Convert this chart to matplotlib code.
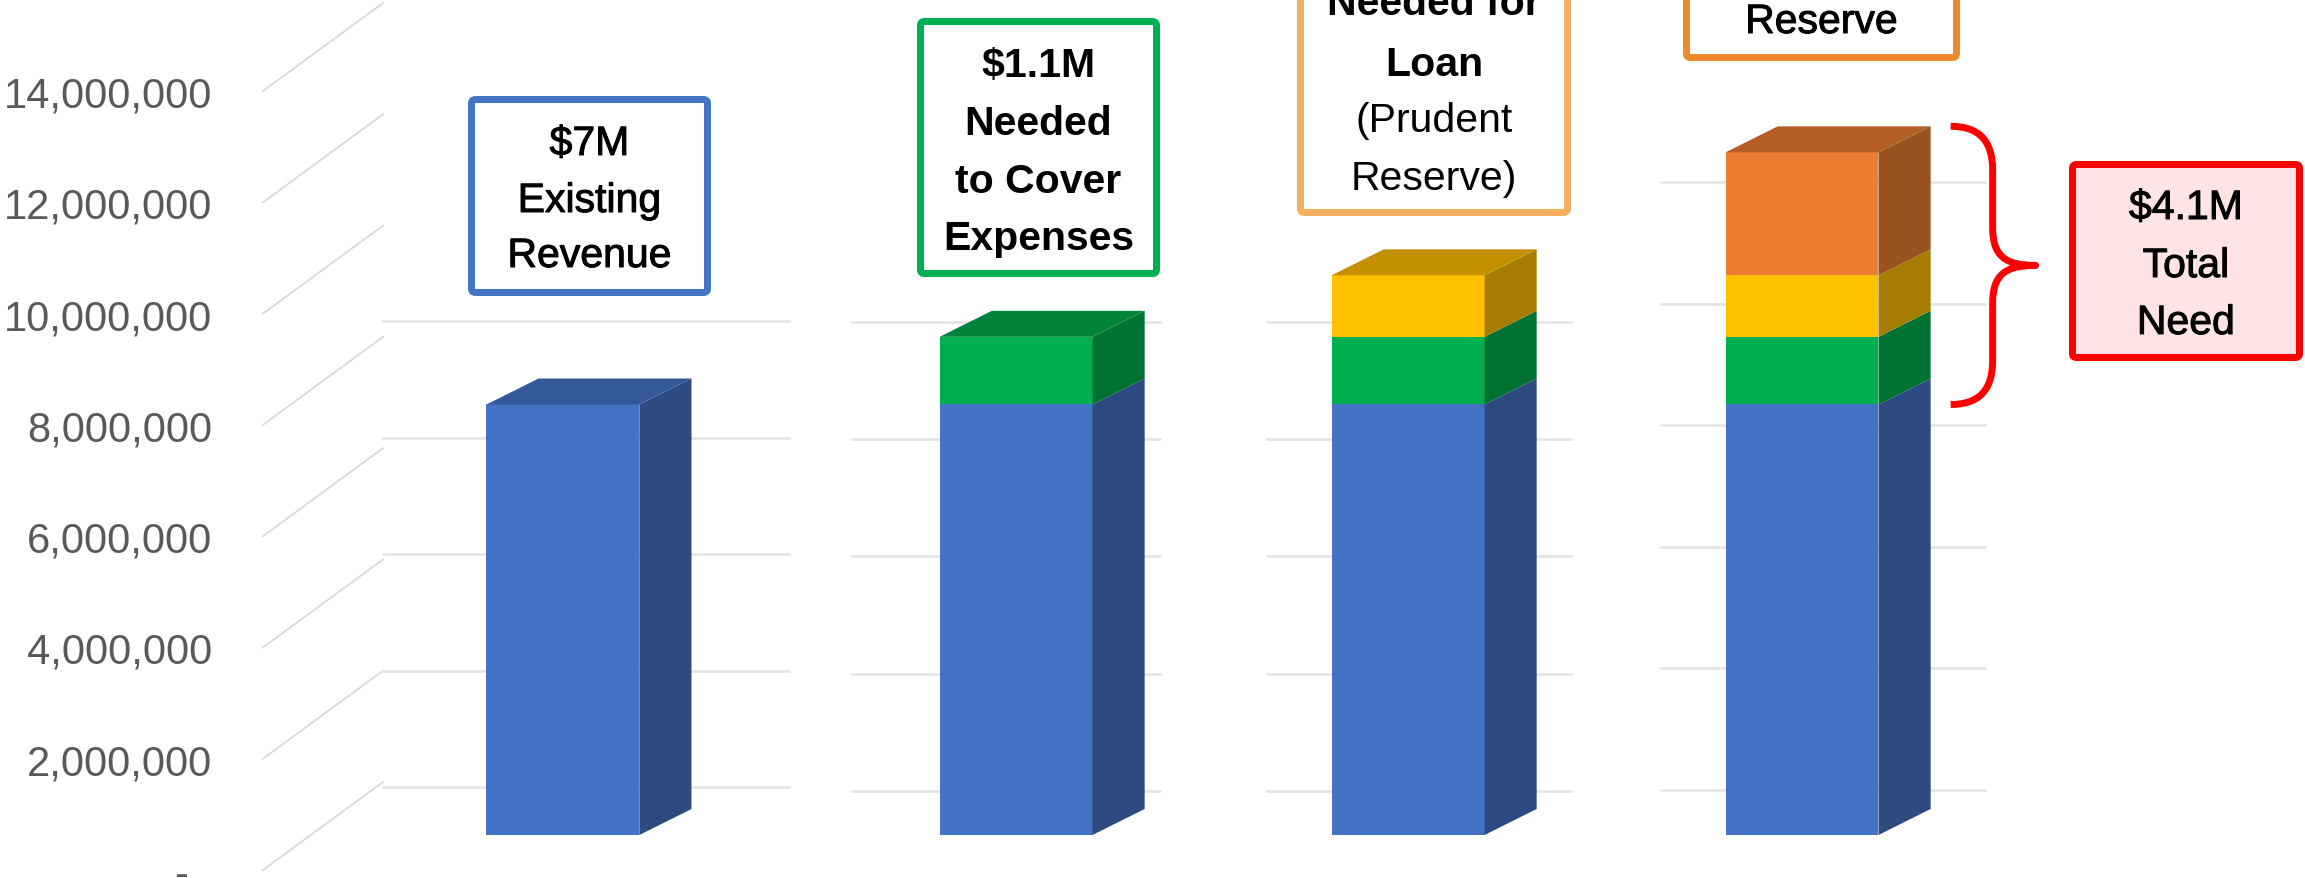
import numpy as np
import matplotlib.pyplot as plt
import matplotlib.patheffects as pe
from matplotlib.patches import Polygon, FancyBboxPatch, PathPatch
from matplotlib.path import Path
from matplotlib.ticker import FuncFormatter

plt.rcParams['font.family'] = ['Liberation Sans', 'DejaVu Sans']

# funding stack per column (dollars)
columns = ['Existing Revenue', 'Cover Expenses', 'Loan Reserve', 'Total Need']
revenue = [7.0e6, 7.0e6, 7.0e6, 7.0e6]
expenses = [0, 1.1e6, 1.1e6, 1.1e6]
loan = [0, 0, 1.0e6, 1.0e6]
reserve = [0, 0, 0, 2.0e6]
wall_ticks = [0, 2e6, 4e6, 6e6, 8e6, 10e6, 12e6, 14e6]

# face colours: front, side, top
series = [
    (revenue, '#4472C4', '#2D4B80', '#35589A'),
    (expenses, '#00B050', '#007332', '#00843A'),
    (loan, '#FFC000', '#A67D00', '#C39000'),
    (reserve, '#ED7D31', '#9A5220', '#B45F25'),
]

W, H = 2305, 879
fig = plt.figure(figsize=(W / 100, H / 100), dpi=100)
fig.patch.set_facecolor('white')

# pixel-space layers behind and in front of the chart
bg = fig.add_axes([0, 0, 1, 1], zorder=0)
ax = fig.add_axes([0, 0, 1, 1], zorder=1)
ov = fig.add_axes([0, 0, 1, 1], zorder=2)
for a in (bg, ov):
    a.set_xlim(0, W)
    a.set_ylim(H, 0)
    a.axis('off')

# ---- 3D wall: side wall diagonals + back wall gridlines ----
def label_px(w):
    return 871 - 55.64e-6 * w

for w in wall_ticks:
    y = label_px(w)
    bg.plot([263, 383], [y, y - 88], color='#D9D9D9', lw=1.3)

# each column sits on its own slice of the back wall
panels = [(383, 789, 788, 58.25e-6, 8e6),
          (852, 1160, 792, 58.65e-6, 8e6),
          (1267, 1571, 792, 58.65e-6, 8e6),
          (1661, 1985, 791, 60.8e-6, 10e6)]
for x0, x1, zero, scale, top in panels:
    for w in wall_ticks:
        if w <= top:
            y = zero - scale * w
            bg.plot([x0, x1], [y, y], color='#E3E3E3', lw=1.8)

# ---- bars ----
ax.set_xlim(-1.436, 4.444)
ax.set_ylim(-0.699e6, 13.593e6)
ax.patch.set_alpha(0)
ax.set_xticks([])
ax.set_yticks([])
for s in ax.spines.values():
    s.set_visible(False)

pos = np.array([0, 1.156, 2.156, 3.161])
width = 0.39
dx, dy = 0.133, 0.4228e6

bottom = np.zeros(len(columns))
for vals, front, side, topc in series:
    vals = np.array(vals)
    ax.bar(pos, vals, width, bottom=bottom, color=front, linewidth=0, zorder=3)
    for i, v in enumerate(vals):
        if v <= 0:
            continue
        xr = pos[i] + width / 2
        y0, y1 = bottom[i], bottom[i] + v
        ax.add_patch(Polygon([(xr, y0), (xr + dx, y0 + dy), (xr + dx, y1 + dy), (xr, y1)],
                             closed=True, facecolor=side, edgecolor='none', zorder=3))
    bottom = bottom + vals

# top faces take the colour of the uppermost segment
for i in range(len(columns)):
    for vals, front, side, topc in series:
        if vals[i] > 0:
            topcol = topc
    xl, xr = pos[i] - width / 2, pos[i] + width / 2
    t = bottom[i]
    ax.add_patch(Polygon([(xl, t), (xl + dx, t + dy), (xr + dx, t + dy), (xr, t)],
                         closed=True, facecolor=topcol, edgecolor='none', zorder=3))

# value axis labels on the side wall
def to_wall(v):
    return 0.62904e6 + 1.10532 * np.asarray(v)

def from_wall(w):
    return (np.asarray(w) - 0.62904e6) / 1.10532

sec = ax.secondary_yaxis(263 / W, functions=(to_wall, from_wall))
sec.set_yticks(wall_ticks)
sec.yaxis.set_major_formatter(FuncFormatter(lambda w, _: '-  ' if abs(w) < 1 else f'{w:,.0f}'))
sec.tick_params(length=0, pad=36.5, labelsize=30, labelcolor='#595959')
for s in sec.spines.values():
    s.set_visible(False)

# ---- brace over the total need on the last column ----
need = expenses[3] + loan[3] + reserve[3]
hx, hy = 1 / 392, 1 / 61.5e-6
x_end = pos[3] + width / 2 + dx + 20 * hx
x_sp = x_end + 42 * hx
x_tip = x_end + 85 * hx
y_bot = revenue[3]
y_top = revenue[3] + need + dy
y_mid = (y_bot + y_top) / 2
verts = [(x_end, y_top),
         (x_end + 28 * hx, y_top), (x_sp, y_top - 14 * hy), (x_sp, y_top - 44 * hy),
         (x_sp, y_mid + 38 * hy),
         (x_sp, y_mid + 8 * hy), (x_sp + 14 * hx, y_mid), (x_tip, y_mid),
         (x_sp + 14 * hx, y_mid), (x_sp, y_mid - 8 * hy), (x_sp, y_mid - 38 * hy),
         (x_sp, y_bot + 44 * hy),
         (x_sp, y_bot + 14 * hy), (x_end + 28 * hx, y_bot), (x_end, y_bot)]
codes = [Path.MOVETO, Path.CURVE4, Path.CURVE4, Path.CURVE4, Path.LINETO,
         Path.CURVE4, Path.CURVE4, Path.CURVE4, Path.CURVE4, Path.CURVE4, Path.CURVE4,
         Path.LINETO, Path.CURVE4, Path.CURVE4, Path.CURVE4]
ax.add_patch(PathPatch(Path(verts, codes), facecolor='none', edgecolor='#FF0000',
                       lw=5, capstyle='butt', joinstyle='round', zorder=4))

# ---- callout boxes ----
boxes = [
    (468, 711, 97, 297, '#4472C4', 'white',
     [(f'${revenue[0] / 1e6:g}M', 'normal', 156), ('Existing', 'normal', 213),
      ('Revenue', 'normal', 268)]),
    (917, 1160, 19, 278, '#00B050', 'white',
     [(f'${expenses[1] / 1e6:g}M', 'bold', 77), ('Needed', 'bold', 135),
      ('to Cover', 'bold', 193), ('Expenses', 'bold', 250)]),
    (1297, 1571, -40, 217, '#F4B15D', 'white',
     [('Needed for', 'bold', 15), ('Loan', 'bold', 76),
      ('(Prudent', 'light', 132), ('Reserve)', 'light', 190)]),
    (1683, 1960, -40, 62, '#EE8A2E', 'white',
     [('Reserve', 'normal', 34)]),
    (2069, 2303, 162, 362, '#FF0000', '#FFE4E6',
     [(f'${need / 1e6:.1f}M', 'normal', 220), ('Total', 'normal', 278),
      ('Need', 'normal', 335)]),
]
# a thin outline gives the regular captions a medium weight
medium = [pe.withStroke(linewidth=0.7, foreground='black')]
lw_px = 7
for x0, x1, y0, y1, edge, face, lines in boxes:
    ov.add_patch(FancyBboxPatch((x0 + lw_px / 2, y0 + lw_px / 2), x1 - x0 - lw_px, y1 - y0 - lw_px,
                                boxstyle='round,pad=0,rounding_size=4',
                                facecolor=face, edgecolor=edge, lw=lw_px * 0.72, zorder=5))
    cx = (x0 + x1) / 2
    for txt, wt, base in lines:
        t = ov.text(cx, base, txt, ha='center', va='baseline', fontsize=29.5,
                    fontweight='bold' if wt == 'bold' else 'normal', color='black', zorder=6)
        if wt == 'normal':
            t.set_path_effects(medium)

fig.savefig('out.png', dpi=100, facecolor='white')
